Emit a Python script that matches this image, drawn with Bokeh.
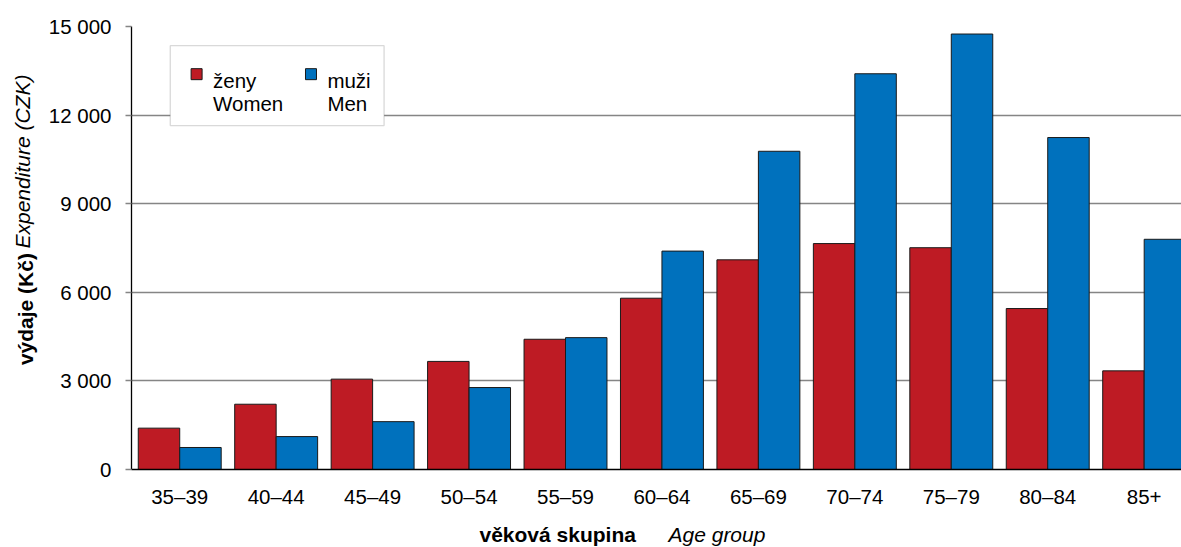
import math
from bokeh.plotting import figure
from bokeh.models import ColumnDataSource, Range1d, FixedTicker, Label, BoxAnnotation
from bokeh.core.properties import value
from bokeh.transform import dodge
from bokeh.layouts import column, row
from bokeh.embed import file_html
from bokeh.resources import INLINE

# ---- data ----
age_groups = ["35–39", "40–44", "45–49", "50–54", "55–59", "60–64",
              "65–69", "70–74", "75–79", "80–84", "85+"]
women = [1400, 2210, 3060, 3660, 4410, 5800, 7100, 7650, 7510, 5450, 3340]
men = [745, 1115, 1620, 2775, 4465, 7395, 10775, 13400, 14745, 11240, 7795]
y_ticks = [0, 3000, 6000, 9000, 12000, 15000]
y_tick_labels = ["0", "3 000", "6 000", "9 000", "12 000", "15 000"]
series_labels = [("ženy", "Women"), ("muži", "Men")]
y_title = ("výdaje (Kč)", "Expenditure (CZK)")
x_title = ("věková skupina", "Age group")

RED = "#BE1B24"
BLUE = "#0071BD"
FONT = "Liberation Sans"

LEFT_W = 45
MAIN_H = 515
TOTAL_W = 1181
TOTAL_H = 547

xs = list(range(len(age_groups)))
src = ColumnDataSource(dict(x=xs, women=women, men=men))

p = figure(width=TOTAL_W - LEFT_W, height=MAIN_H,
           x_range=Range1d(-0.5, 10.387), y_range=Range1d(0, 15000),
           output_backend="svg", toolbar_location=None,
           min_border_left=80, min_border_right=0,
           min_border_top=26, min_border_bottom=46)
p.outline_line_color = None

bar_w = 0.43
p.vbar(x=dodge("x", -0.215, range=p.x_range), top="women", width=bar_w,
       source=src, fill_color=RED, line_color="#1a1a1a", line_width=1)
p.vbar(x=dodge("x", 0.215, range=p.x_range), top="men", width=bar_w,
       source=src, fill_color=BLUE, line_color="#1a1a1a", line_width=1)

p.xgrid.visible = False
p.ygrid.grid_line_color = "#858585"
p.ygrid.grid_line_width = 1.4
p.ygrid.ticker = FixedTicker(ticks=y_ticks)

yax = p.yaxis[0]
yax.ticker = FixedTicker(ticks=y_ticks)
yax.major_label_overrides = {t: l for t, l in zip(y_ticks, y_tick_labels)}
yax.axis_line_color = "black"
yax.axis_line_width = 1.3
yax.major_tick_line_color = "#858585"
yax.major_tick_line_width = 1.4
yax.major_tick_out = 6
yax.major_tick_in = 0
yax.minor_tick_line_color = None
yax.major_label_standoff = 14
yax.major_label_text_font = FONT
yax.major_label_text_font_size = "20.5px"
yax.major_label_text_color = "black"

xax = p.xaxis[0]
xax.ticker = FixedTicker(ticks=xs)
xax.major_label_overrides = {i: g for i, g in zip(xs, age_groups)}
xax.axis_line_color = "black"
xax.axis_line_width = 1.3
xax.major_tick_out = 0
xax.major_tick_in = 0
xax.minor_tick_line_color = None
xax.major_label_standoff = 15
xax.major_label_text_font = FONT
xax.major_label_text_font_size = "20.5px"
xax.major_label_text_color = "black"

# legend (manual, inside the frame)
box = BoxAnnotation(left=-0.098, right=2.119, top=14351, bottom=11645,
                    fill_color="white", fill_alpha=1.0,
                    line_color="#808080", line_width=1.3, level="underlay")
p.add_layout(box)
p.scatter(x=[0.175, 1.361], y=[13386, 13386], marker="square", size=11,
          fill_color=[RED, BLUE], line_color="#1a1a1a", line_width=1)
for lx, (cz, en) in zip([0.345, 1.531], series_labels):
    p.add_layout(Label(x=lx, y=13167, text=cz, text_font=FONT, text_font_size="20.5px",
                       text_baseline="alphabetic", text_color="black"))
    p.add_layout(Label(x=lx, y=12389, text=en, text_font=FONT, text_font_size="20.5px",
                       text_baseline="alphabetic", text_color="black"))

# left strip with the y-axis title
pl = figure(width=LEFT_W, height=MAIN_H, x_range=Range1d(0, LEFT_W),
            y_range=Range1d(MAIN_H, 0), output_backend="svg", toolbar_location=None,
            x_axis_type=None, y_axis_type=None,
            min_border_left=0, min_border_right=0, min_border_top=0, min_border_bottom=0)
pl.outline_line_color = None
pl.grid.visible = False
pl.text(x=[25], y=[328.5], text=[y_title[0]], angle=math.pi / 2,
        text_font=value(FONT), text_font_size="21px", text_font_style="bold",
        text_align="center", text_baseline="middle", text_color="black")
pl.text(x=[22], y=[157], text=[y_title[1]], angle=math.pi / 2,
        text_font=value(FONT), text_font_size="21px", text_font_style="italic",
        text_align="center", text_baseline="middle", text_color="black")

# bottom strip with the x-axis title
BOT_H = TOTAL_H - MAIN_H
pb = figure(width=TOTAL_W, height=BOT_H, x_range=Range1d(0, TOTAL_W),
            y_range=Range1d(BOT_H, 0), output_backend="svg", toolbar_location=None,
            x_axis_type=None, y_axis_type=None,
            min_border_left=0, min_border_right=0, min_border_top=0, min_border_bottom=0)
pb.outline_line_color = None
pb.grid.visible = False
pb.text(x=[479], y=[19], text=[x_title[0]],
        text_font=value(FONT), text_font_size="21px", text_font_style="bold",
        text_align="left", text_baseline="alphabetic", text_color="black")
pb.text(x=[668], y=[19], text=[x_title[1]],
        text_font=value(FONT), text_font_size="21px", text_font_style="italic",
        text_align="left", text_baseline="alphabetic", text_color="black")

layout = column(row(pl, p), pb)
open("out.html", "w").write(file_html(layout, INLINE))
